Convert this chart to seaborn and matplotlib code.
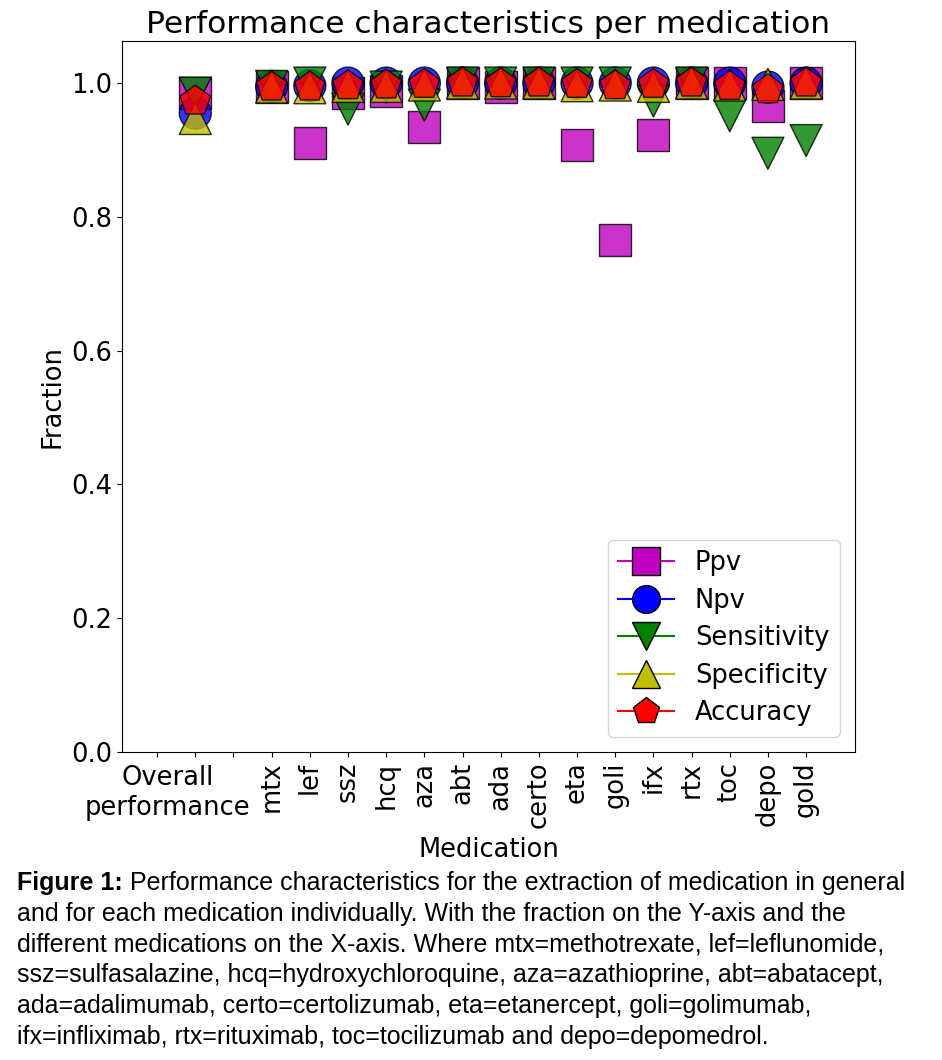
import matplotlib
matplotlib.use("Agg")
import matplotlib.pyplot as plt
import pandas as pd
import seaborn as sns
from matplotlib.lines import Line2D

# Les valeurs (ordre : Overall puis chaque médicament)
GROUPS = ["Overall", "mtx", "lef", "ssz", "hcq", "aza", "abt", "ada", "certo",
          "eta", "goli", "ifx", "rtx", "toc", "depo", "gold"]
TICK_LABELS = ["", "", "", "mtx", "lef", "ssz", "hcq", "aza", "abt", "ada",
               "certo", "eta", "goli", "ifx", "rtx", "toc", "depo", "gold"]
PPV = [0.985, 0.994, 0.910, 0.985, 0.988, 0.935, 1.0, 0.994, 1.0, 0.908,
       0.765, 0.922, 1.0, 1.0, 0.966, 1.0]
NPV = [0.955, 0.995, 0.996, 1.0, 1.0, 1.0, 1.0, 1.0, 1.0, 1.0,
       1.0, 1.0, 1.0, 1.0, 0.994, 1.0]
SENS = [0.985, 0.995, 1.0, 0.961, 0.994, 0.967, 1.0, 1.0, 1.0, 1.0,
        1.0, 0.973, 1.0, 0.951, 0.895, 0.914]
SPEC = [0.947, 0.994, 0.993, 0.995, 0.995, 0.997, 1.0, 1.0, 1.0, 0.996,
        0.997, 0.995, 1.0, 0.997, 0.998, 1.0]
ACC = [0.973, 0.994, 0.994, 0.996, 0.997, 0.998, 1.0, 0.999, 1.0, 0.998,
       0.996, 0.998, 1.0, 0.995, 0.990, 1.0]

METRICS = ["Ppv", "Npv", "Sensitivity", "Specificity", "Accuracy"]
COLORS = {"Ppv": "m", "Npv": "b", "Sensitivity": "g", "Specificity": "y", "Accuracy": "r"}
MARKERS = {"Ppv": "s", "Npv": "o", "Sensitivity": "v", "Specificity": "^", "Accuracy": "p"}

CAPTION = [
    " Performance characteristics for the extraction of medication in general",
    "and for each medication individually. With the fraction on the Y-axis and the",
    "different medications on the X-axis. Where mtx=methotrexate, lef=leflunomide,",
    "ssz=sulfasalazine, hcq=hydroxychloroquine, aza=azathioprine, abt=abatacept,",
    "ada=adalimumab, certo=certolizumab, eta=etanercept, goli=golimumab,",
    "ifx=infliximab, rtx=rituximab, toc=tocilizumab and depo=depomedrol.",
]

# Overall à la position 1, puis un trou, puis les médicaments à partir de 3
xpos = [1] + [i + 2 for i in range(1, len(GROUPS))]
rows = []
for metric, vals in zip(METRICS, [PPV, NPV, SENS, SPEC, ACC]):
    for x, v in zip(xpos, vals):
        rows.append({"x": x, "value": v, "metric": metric})
df = pd.DataFrame(rows)

FS = 18.5
fig = plt.figure(figsize=(9.42, 10.6), dpi=100)
ax = fig.add_axes([0.1295, 0.2906, 0.7781, 0.6708])

sns.scatterplot(
    data=df, x="x", y="value", hue="metric", style="metric",
    hue_order=METRICS, style_order=METRICS, palette=COLORS, markers=MARKERS,
    s=530, alpha=0.8, edgecolor="black", linewidth=1, legend=False, ax=ax,
)

ax.set_xlim(-0.92, 18.28)
ax.set_ylim(0, 1.063)
ax.set_xticks(range(len(TICK_LABELS)))
ax.set_xticklabels(TICK_LABELS, rotation=90, fontsize=FS)
ax.set_yticks([0.0, 0.2, 0.4, 0.6, 0.8, 1.0])
ax.set_yticklabels(["0.0", "0.2", "0.4", "0.6", "0.8", "1.0"], fontsize=FS)
ax.annotate("Overall\nperformance", xy=(1, 0), xycoords=("data", "axes fraction"),
            xytext=(-20, -9.5), textcoords="offset points", ha="center", va="top",
            fontsize=FS)
ax.set_xlabel("Medication", fontsize=FS, labelpad=6)
ax.set_ylabel("Fraction", fontsize=FS)
ax.set_title("Performance characteristics per medication", fontsize=22.5, pad=6)

handles = [
    Line2D([0], [0], color=COLORS[m], marker=MARKERS[m], markersize=20,
           markeredgecolor="black", lw=1.5, label=m)
    for m in METRICS
]
ax.legend(handles=handles, loc="lower right", fontsize=FS, handlelength=2.2,
          labelspacing=0.45, borderaxespad=0.6)

# Légende de la figure sous le graphique
fig.canvas.draw()
renderer = fig.canvas.get_renderer()
cap_fs = 18
y0 = 1 - 883 / 1060
step = 30.8 / 1060
bold = fig.text(17 / 942, y0, "Figure 1:", fontsize=cap_fs, fontweight="bold",
                family="Liberation Sans", va="center", ha="left")
bb = bold.get_window_extent(renderer)
fig.text(bb.x1 / fig.bbox.width, y0, CAPTION[0], fontsize=cap_fs,
         family="Liberation Sans", va="center", ha="left")
for i, line in enumerate(CAPTION[1:], start=1):
    fig.text(17 / 942, y0 - i * step, line, fontsize=cap_fs,
             family="Liberation Sans", va="center", ha="left")

fig.savefig("out.png", dpi=100)
